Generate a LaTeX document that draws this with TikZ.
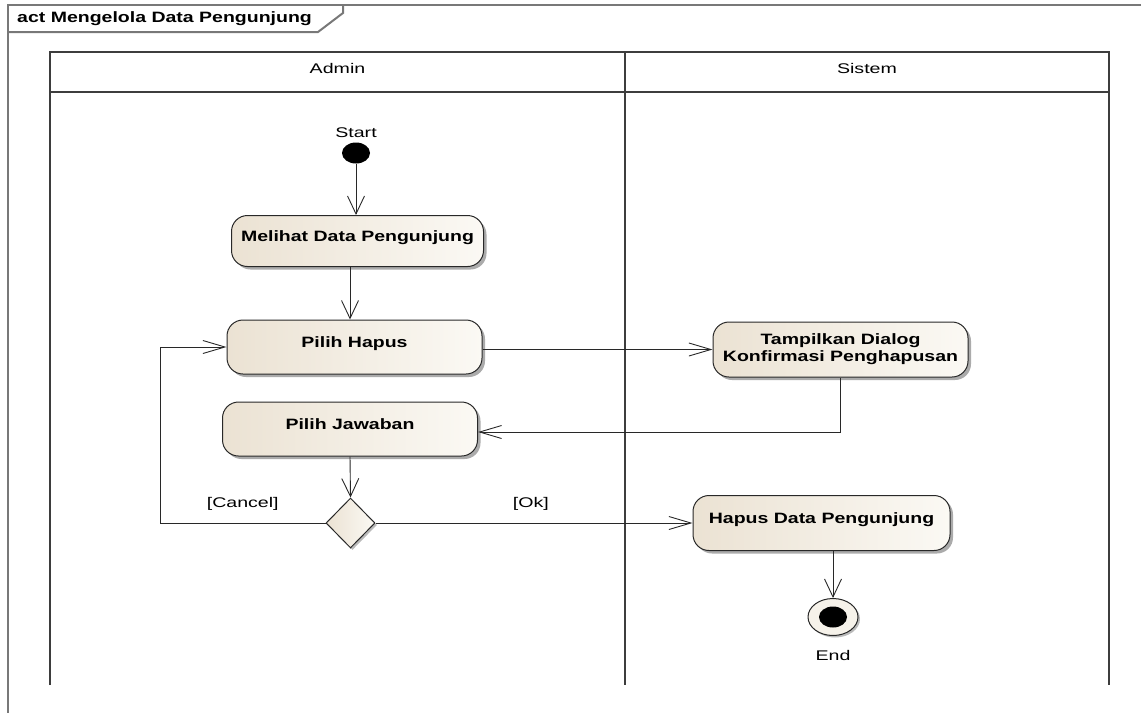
\documentclass[tikz,border=0pt]{standalone}
\usepackage{fontspec}
\setmainfont[FakeStretch=1.3]{Liberation Sans}
\newfontfamily\lajurfont[FakeStretch=1.4]{Liberation Sans}
\usetikzlibrary{positioning, arrows.meta, shapes.geometric, shadows}
\definecolor{aksikiri}{RGB}{235,226,211}
\definecolor{aksikanan}{RGB}{251,249,244}
\definecolor{bingkai}{RGB}{120,120,120}
\definecolor{garis}{RGB}{40,40,40}
\tikzset{
  umlact/.style={
	x=1pt, y=1pt, % one unit is one pixel of the screenshot
	node distance=90pt, % centre to centre, changed per node below
	font=\fontsize{15}{17}\selectfont\bfseries,
  },
  aksi/.style={
	rectangle, rounded corners=16pt, draw=garis, line width=1pt,
	left color=aksikiri, right color=aksikanan, % beige to white shading
	minimum width=255pt, minimum height=54pt, align=center,
	drop shadow={shadow xshift=3pt, shadow yshift=-3pt, fill=black!60, opacity=.55},
  },
  satu baris/.style={text depth=10pt}, % lifts a one line text a little, as in the original
  keputusan/.style={
	diamond, draw=garis, line width=1pt, left color=aksikiri, right color=aksikanan,
	minimum width=49pt, minimum height=50pt, inner sep=0pt,
	drop shadow={shadow xshift=2pt, shadow yshift=-2pt, fill=black!60, opacity=.45},
  },
  awal/.style={ellipse, fill=black, minimum width=28pt, minimum height=21pt, inner sep=0pt},
  akhir/.style={
	ellipse, draw=garis, line width=1pt, fill=aksikanan!70!aksikiri,
	minimum width=50pt, minimum height=37pt, inner sep=0pt,
	drop shadow={shadow xshift=2pt, shadow yshift=-2pt, fill=black!60, opacity=.45},
  },
  teks biasa/.style={font=\lajurfont\fontsize{14}{17}\selectfont, inner sep=0pt},
  alur/.style={-{Straight Barb[length=22pt, width=13pt]}, draw=garis, line width=0.9pt},
  alur tegak/.style={-{Straight Barb[length=18pt, width=17pt]}, draw=garis, line width=0.9pt},
  bingkai garis/.style={draw=bingkai, line width=2pt},
  lajur garis/.style={draw=garis!90, line width=1.4pt},
}
\begin{document}
\begin{tikzpicture}[umlact]
	  \useasboundingbox (0,0) rectangle (1148,-713);
	  % frame and swimlanes
	  \draw[bingkai garis] (1141,-5) -- (8,-5) -- (8,-713);
	  \draw[bingkai garis] (8,-32) -- (318,-32) -- (343,-13) -- (343,-5);
	  \node[anchor=west, inner sep=0pt] (judul) at (17,-19) {act Mengelola Data Pengunjung};
	  \draw[lajur garis] (50,-685) -- (50,-52) -- (1109,-52) -- (1109,-685)
		  (50,-92) -- (1109,-92)
		  (625,-52) -- (625,-685);
	  \node[teks biasa] (admin) at (337.5,-68) {Admin};
	  \node[teks biasa] (sistem) at (867,-68) {Sistem};
	  % activities
	  \node[awal] (start) at (356,-153) {};
	  \node[teks biasa, above=4pt of start] (labelstart) {Start};
	  \node[aksi, satu baris, below of=start, node distance=88pt, xshift=1.5pt, minimum width=252pt, minimum height=51pt] (melihat) {Melihat Data Pengunjung};
	  \node[aksi, satu baris, below of=melihat, node distance=106pt, xshift=-3pt] (pilihhapus) {Pilih Hapus};
	  \node[aksi, satu baris, below of=pilihhapus, node distance=82pt, xshift=-4.5pt] (jawaban) {Pilih Jawaban};
	  \node[keputusan, below of=jawaban, node distance=94pt, xshift=0.5pt] (pilihan) {};
	  \node[aksi, right of=pilihhapus, node distance=486pt, yshift=-2.5pt, minimum height=55pt] (tampilkan) {Tampilkan Dialog\\Konfirmasi Penghapusan};
	  \node[aksi, satu baris, right of=pilihan, node distance=471pt, minimum width=257pt, minimum height=55pt] (hapus) {Hapus Data Pengunjung};
	  \node[akhir, below of=hapus, node distance=94pt, xshift=11.5pt] (end) {};
	  \node[awal] (endinti) at (end) {};
	  \node[teks biasa, below=14pt of end] (labelend) {End};
	  \coordinate (balik) at (160,-523);
	  % flows
	  \draw[alur tegak] (start) -- (start |- melihat.north);
	  \draw[alur tegak] (melihat.south -| jawaban) -- (pilihhapus.north -| jawaban);
	  \draw[alur] (pilihhapus.east |- tampilkan.west) -- (tampilkan.west);
	  \draw[alur] (tampilkan.south) |- ([yshift=-3pt]jawaban.east);
	  \draw[alur tegak] (jawaban.south) -- (pilihan.north);
	  \draw[alur] (pilihan.west) -- node[teks biasa, above=12.5pt] (cancel) {[Cancel]} (balik) |- (pilihhapus.west);
	  \draw[alur] (pilihan.east) -- node[teks biasa, above=12.5pt, pos=0.49] (ok) {[Ok]} (hapus.west);
	  \draw[alur tegak] (hapus.south -| end) -- (end.north);
\end{tikzpicture}
\end{document}
